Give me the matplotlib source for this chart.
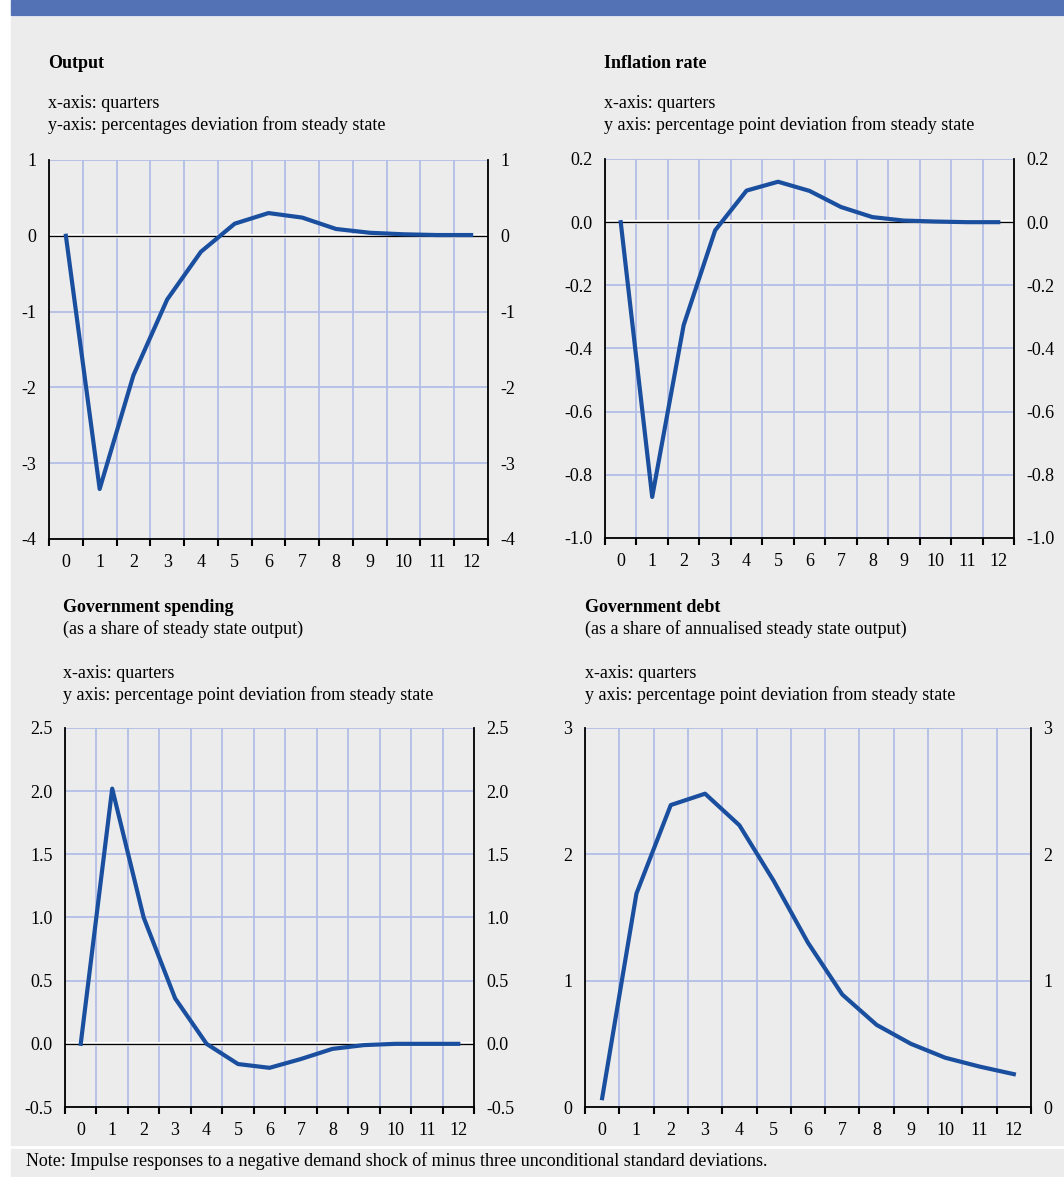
import matplotlib
matplotlib.use("Agg")
import matplotlib.pyplot as plt
from matplotlib.patches import Rectangle

plt.rcParams['font.family'] = ['Liberation Serif', 'DejaVu Serif']
plt.rcParams['font.size'] = 13
plt.rcParams['axes.unicode_minus'] = False

quarters = list(range(13))

output = [0.0, -3.34, -1.84, -0.84, -0.21, 0.16, 0.30, 0.24, 0.09, 0.04, 0.02, 0.01, 0.01]
inflation = [0.0, -0.87, -0.326, -0.026, 0.10, 0.128, 0.099, 0.048, 0.016, 0.005, 0.002, 0.0, 0.0]
gov_spending = [0.0, 2.02, 1.0, 0.36, 0.0, -0.16, -0.19, -0.12, -0.04, -0.01, 0.0, 0.0, 0.0]
gov_debt = [0.07, 1.69, 2.39, 2.48, 2.23, 1.79, 1.30, 0.89, 0.65, 0.50, 0.39, 0.32, 0.26]

output_ticks = [-4, -3, -2, -1, 0, 1]
output_labels = ['-4', '-3', '-2', '-1', '0', '1']
inflation_ticks = [-1.0, -0.8, -0.6, -0.4, -0.2, 0.0, 0.2]
inflation_labels = ['-1.0', '-0.8', '-0.6', '-0.4', '-0.2', '0.0', '0.2']
spending_ticks = [-0.5, 0.0, 0.5, 1.0, 1.5, 2.0, 2.5]
spending_labels = ['-0.5', '0.0', '0.5', '1.0', '1.5', '2.0', '2.5']
debt_ticks = [0, 1, 2, 3]
debt_labels = ['0', '1', '2', '3']

BG = '#ececec'
BANNER = '#5371b5'
LINE = '#1a4f9f'
GRID = '#b3bde6'

W, H = 1064, 1177
fig = plt.figure(figsize=(W / 100, H / 100), dpi=100, facecolor='white')

# background blocks behind the panels
for x0, y0, w, h, c in [(11, 1149, W - 11, 28, BG),
                        (11, 17, W - 11, 1128, BG),
                        (11, 0, W - 11, 15, BANNER)]:
    fig.patches.append(Rectangle((x0 / W, 1 - (y0 + h) / H), w / W, h / H,
                                 transform=fig.transFigure, color=c, zorder=-5))


def ftext(x, y, s, **kw):
    fig.text(x / W, 1 - y / H, s, va='center', ha='left', **kw)


def panel(box, values, ticks, labels, zero_line=True):
    l, t, r, b = box
    ax = fig.add_axes([l / W, 1 - b / H, (r - l) / W, (b - t) / H])
    ax.set_zorder(2)
    ax.set_facecolor(BG)
    ax.set_xlim(-0.5, 12.5)
    ax.set_ylim(ticks[0], ticks[-1])

    # tick marks sit between quarters, labels sit on the quarters
    ax.set_xticks([i - 0.5 for i in range(14)])
    ax.set_xticklabels([])
    ax.set_xticks(quarters, minor=True)
    ax.set_xticklabels([str(q) for q in quarters], minor=True)
    ax.tick_params(axis='x', which='major', direction='out', length=5, width=1.5,
                   color='black')
    ax.tick_params(axis='x', which='minor', length=0, pad=11)

    ax.set_yticks(ticks)
    ax.set_yticklabels(labels)
    ax.tick_params(axis='y', length=0, pad=9, labelright=True)

    ax.grid(True, which='major', color=GRID, linewidth=1.3, zorder=1)
    for s in ['left', 'right', 'bottom']:
        ax.spines[s].set_color('black')
        ax.spines[s].set_linewidth(1.3)
    ax.spines['top'].set_visible(False)

    if zero_line:
        ax.axhline(0, color='white', linewidth=3, zorder=2)
        ax.axhline(0, color='black', linewidth=1.0, zorder=2)
    ax.plot(quarters, values, color=LINE, linewidth=3, zorder=3, clip_on=False)
    return ax


panel((49, 160, 488, 539), output, output_ticks, output_labels)
panel((605, 159, 1014, 538), inflation, inflation_ticks, inflation_labels)
panel((65, 728, 474, 1107), gov_spending, spending_ticks, spending_labels)
panel((585, 728, 1031, 1107), gov_debt, debt_ticks, debt_labels, zero_line=False)

# panel headings
ftext(48, 63, 'Output', fontweight='bold')
ftext(48, 103, 'x-axis: quarters')
ftext(48, 125, 'y-axis: percentages deviation from steady state')

ftext(604, 63, 'Inflation rate', fontweight='bold')
ftext(604, 103, 'x-axis: quarters')
ftext(604, 125, 'y axis: percentage point deviation from steady state')

ftext(63, 607, 'Government spending', fontweight='bold')
ftext(63, 629, '(as a share of steady state output)')
ftext(63, 674, 'x-axis: quarters')
ftext(63, 695, 'y axis: percentage point deviation from steady state')

ftext(585, 607, 'Government debt', fontweight='bold')
ftext(585, 629, '(as a share of annualised steady state output)')
ftext(585, 674, 'x-axis: quarters')
ftext(585, 695, 'y axis: percentage point deviation from steady state')

ftext(26, 1161, 'Note: Impulse responses to a negative demand shock of minus three '
                'unconditional standard deviations.')

fig.savefig('out.png', dpi=100, facecolor='white')
